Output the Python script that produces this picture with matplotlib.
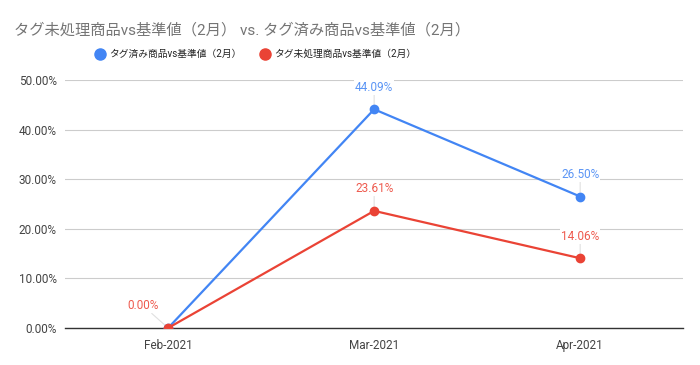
import numpy as np
import matplotlib.pyplot as plt

plt.rcParams['font.family'] = ['Roboto', 'Noto Sans CJK JP', 'DejaVu Sans']

# --------------------------------------------
# Data
# --------------------------------------------
months = ['Feb-2021', 'Mar-2021', 'Apr-2021']
tagged = [0.0, 44.09, 26.50]      # タグ済み商品vs基準値（2月）
untagged = [0.0, 23.61, 14.06]    # タグ未処理商品vs基準値（2月）

title = 'タグ未処理商品vs基準値（2月） vs. タグ済み商品vs基準値（2月）'
name_tagged = 'タグ済み商品vs基準値（2月）'
name_untagged = 'タグ未処理商品vs基準値（2月）'

blue = '#4285F4'
red = '#EA4335'

fig = plt.figure(figsize=(7, 3.65), dpi=100)
ax = fig.add_axes([0.093, 0.1014, 0.883, 0.6795])

x = np.arange(len(months))
ax.plot(x, tagged, color=blue, lw=1.6, marker='o', ms=6, label=name_tagged, zorder=3)
ax.plot(x, untagged, color=red, lw=1.6, marker='o', ms=6, label=name_untagged, zorder=3)


def label(xi, v, color, dx=0, dy=16):
    ax.annotate(f'{v:.2f}%', (xi, v), xytext=(dx, dy), textcoords='offset points',
                ha='center', va='center', color=color, fontsize=8.5,
                bbox=dict(boxstyle='square,pad=0.1', fc='white', ec='none'),
                arrowprops=dict(arrowstyle='-', color='#e0e0e0', lw=0.8,
                                shrinkA=0, shrinkB=3),
                zorder=2)


# data labels (blue 0.00% hidden behind the red one in the reference)
for i, v in enumerate(tagged):
    if v != 0:
        label(x[i], v, '#5b95f5')
for i, v in enumerate(untagged):
    if v == 0:
        label(x[i], v, '#ee5a4e', dx=-18, dy=16)
    else:
        label(x[i], v, '#ee5a4e')

ax.set_xlim(-0.5, len(months) - 0.5)
ax.set_ylim(0, 50)
ax.set_yticks(np.arange(0, 51, 10))
ax.set_yticklabels([f'{t:.2f}%' for t in np.arange(0, 51, 10)])
ax.set_xticks(x)
ax.set_xticklabels(months)
ax.tick_params(length=0, labelsize=8.5, labelcolor='#444444')
ax.tick_params(axis='x', pad=8)
ax.tick_params(axis='y', pad=6)
ax.grid(axis='y', color='#cccccc', lw=0.8)
ax.set_axisbelow(True)
for s in ['top', 'right', 'left']:
    ax.spines[s].set_visible(False)
ax.spines['bottom'].set_color('#333333')
ax.spines['bottom'].set_linewidth(1)

fig.text(0.02, 0.918, title, fontsize=11, color='#757575', va='center', ha='left')
fig.legend(loc='center', bbox_to_anchor=(0.366, 0.852), ncol=2, frameon=False,
           fontsize=7, handlelength=0.8, handletextpad=0.5, columnspacing=2.0,
           labelcolor='#222222')
for h in fig.legends[0].legend_handles:
    h.set_linestyle('none')
    h.set_markersize(8)

fig.savefig('out.png', dpi=100)
